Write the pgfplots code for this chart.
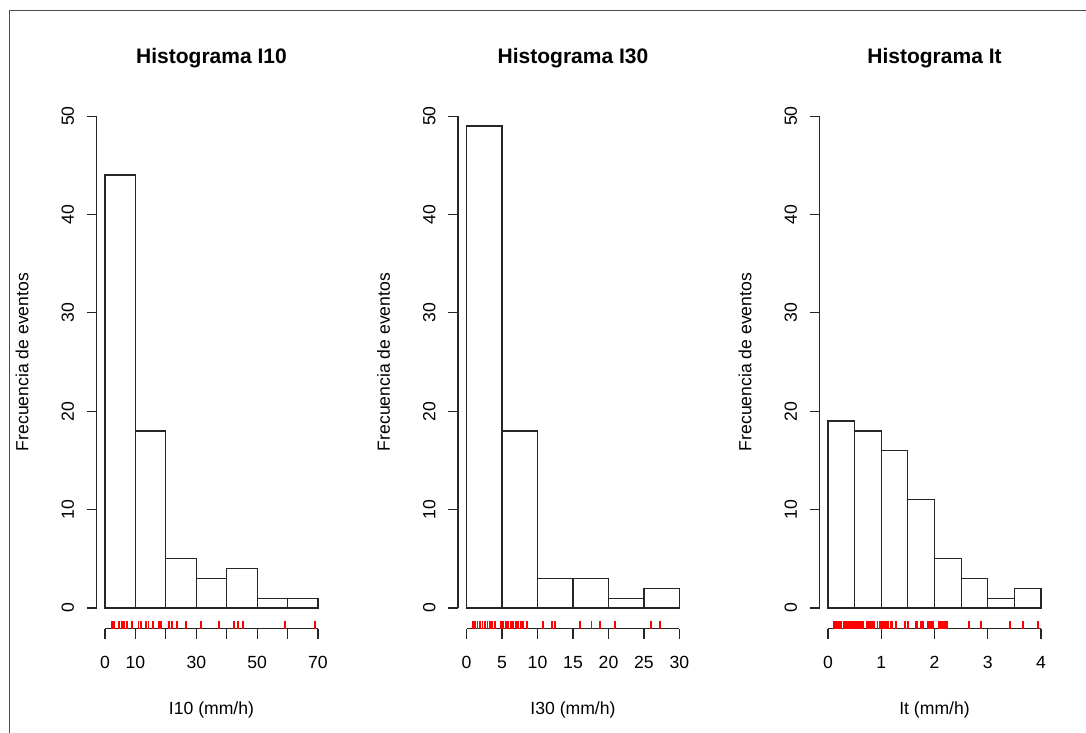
\documentclass[border=0pt]{standalone}
\usepackage{pgfplots}
\pgfplotsset{compat=1.18}
\usepackage{fontspec}
\setmainfont{Liberation Sans}
\pgfplotsset{
  rhist/.style={
    scale only axis, width=230pt, height=533.3pt,
    anchor=south west,
    ymin=-2.1, ymax=52.1,
    axis line style={draw=none},
    tick pos=left, tick align=outside,
    major tick length=10pt,
    tick style={black!85, line width=1.1pt},
    ytick={0,10,20,30,40,50},
    yticklabels={0,10,20,30,40,50},
    yticklabel style={xshift=-9pt, rotate=90, anchor=south, font=\fontsize{17.6pt}{20pt}\selectfont},
    xticklabel style={yshift=-14pt, font=\fontsize{17.6pt}{20pt}\selectfont},
    /pgf/number format/assume math mode=true,
    clip=false,
  },
  hbar/.style={ybar interval, fill=white, draw=black!85, line width=1.2pt},
  rug/.style={only marks, mark=|, mark size=4pt, color=red, mark options={line width=1.9pt, draw=red}},
}
\begin{document}%
\begin{tikzpicture}[x=1pt,y=1pt,font=\fontsize{17.6pt}{20pt}\selectfont]
\draw[line width=1.5pt, black!70] (9.5,-10) -- (9.5,721.3) -- (1100,721.3);
% Panel 1
\begin{axis}[rhist, at={(96.5pt,103.3pt)}, xmin=-2.8, xmax=72.8,
  xtick={0,10,20,30,40,50,60,70}, xticklabels={0,10,,30,,50,,70}]
\addplot[hbar] coordinates {(0,44) (10,18) (20,5) (30,3) (40,4) (50,1) (60,1) (70,1)};
\addplot[rug] coordinates {(2.2,-1.72) (3.0,-1.72) (4.7,-1.72) (5.5,-1.72) (6.3,-1.72) (7.2,-1.72) (8.8,-1.72) (11.0,-1.72) (11.9,-1.72) (13.6,-1.72) (14.3,-1.72) (15.8,-1.72) (17.6,-1.72) (18.5,-1.72) (20.9,-1.72) (22.0,-1.72) (23.7,-1.72) (26.7,-1.72) (31.5,-1.72) (37.6,-1.72) (42.4,-1.72) (43.6,-1.72) (45.3,-1.72) (59.2,-1.72) (69.1,-1.72)};
\draw[line width=1.1pt, black!85] (axis cs:0,-2.1) -- (axis cs:70,-2.1);
\draw[line width=1.1pt, black!85] (axis cs:-2.8,0) -- (axis cs:-2.8,50);
\node[font=\fontsize{21pt}{24pt}\selectfont\bfseries] at (rel axis cs:0.5,1) [yshift=37pt] {Histograma I10};
\node at (rel axis cs:0.5,0) [yshift=-81pt] {I10 (mm/h)};
\node at (rel axis cs:0,0.5) [xshift=-74.5pt, rotate=90] {Frecuencia de eventos};
\end{axis}
% Panel 2
\begin{axis}[rhist, at={(458pt,103.3pt)}, xmin=-1.2, xmax=31.2,
  xtick={0,5,10,15,20,25,30}, xticklabels={0,5,10,15,20,25,30}]
\addplot[hbar] coordinates {(0,49) (5,18) (10,3) (15,3) (20,1) (25,2) (30,2)};
\addplot[rug] coordinates {(0.94,-1.72) (1.17,-1.72) (1.54,-1.72) (1.92,-1.72) (2.25,-1.72) (2.62,-1.72) (2.95,-1.72) (3.32,-1.72) (3.65,-1.72) (4.02,-1.72) (4.91,-1.72) (5.15,-1.72) (5.52,-1.72) (5.9,-1.72) (6.22,-1.72) (6.6,-1.72) (6.93,-1.72) (7.3,-1.72) (7.63,-1.72) (8.0,-1.72) (8.47,-1.72) (10.8,-1.72) (12.0,-1.72) (12.45,-1.72) (15.96,-1.72) (17.6,-1.72) (18.76,-1.72) (20.87,-1.72) (26.0,-1.72) (27.2,-1.72)};
\draw[line width=1.1pt, black!85] (axis cs:0,-2.1) -- (axis cs:30,-2.1);
\draw[line width=1.1pt, black!85] (axis cs:-1.2,0) -- (axis cs:-1.2,50);
\node[font=\fontsize{21pt}{24pt}\selectfont\bfseries] at (rel axis cs:0.5,1) [yshift=37pt] {Histograma I30};
\node at (rel axis cs:0.5,0) [yshift=-81pt] {I30 (mm/h)};
\node at (rel axis cs:0,0.5) [xshift=-74.5pt, rotate=90] {Frecuencia de eventos};
\end{axis}
% Panel 3
\begin{axis}[rhist, at={(819.5pt,103.3pt)}, xmin=-0.16, xmax=4.16,
  xtick={0,1,2,3,4}, xticklabels={0,1,2,3,4}]
\addplot[hbar] coordinates {(0,19) (0.5,18) (1,16) (1.5,11) (2,5) (2.5,3) (3,1) (3.5,2) (4,2)};
\addplot[rug] coordinates {(0.11,-1.72) (0.14,-1.72) (0.17,-1.72) (0.21,-1.72) (0.25,-1.72) (0.3,-1.72) (0.33,-1.72) (0.36,-1.72) (0.39,-1.72) (0.42,-1.72) (0.45,-1.72) (0.49,-1.72) (0.53,-1.72) (0.56,-1.72) (0.59,-1.72) (0.62,-1.72) (0.65,-1.72) (0.74,-1.72) (0.77,-1.72) (0.81,-1.72) (0.84,-1.72) (0.87,-1.72) (0.93,-1.72) (0.97,-1.72) (1.0,-1.72) (1.03,-1.72) (1.06,-1.72) (1.09,-1.72) (1.12,-1.72) (1.18,-1.72) (1.21,-1.72) (1.28,-1.72) (1.45,-1.72) (1.5,-1.72) (1.65,-1.72) (1.68,-1.72) (1.74,-1.72) (1.78,-1.72) (1.87,-1.72) (1.9,-1.72) (1.93,-1.72) (1.98,-1.72) (2.09,-1.72) (2.12,-1.72) (2.15,-1.72) (2.18,-1.72) (2.21,-1.72) (2.24,-1.72) (2.65,-1.72) (2.88,-1.72) (3.41,-1.72) (3.66,-1.72) (3.94,-1.72)};
\draw[line width=1.1pt, black!85] (axis cs:0,-2.1) -- (axis cs:4,-2.1);
\draw[line width=1.1pt, black!85] (axis cs:-0.16,0) -- (axis cs:-0.16,50);
\node[font=\fontsize{21pt}{24pt}\selectfont\bfseries] at (rel axis cs:0.5,1) [yshift=37pt] {Histograma It};
\node at (rel axis cs:0.5,0) [yshift=-81pt] {It (mm/h)};
\node at (rel axis cs:0,0.5) [xshift=-74.5pt, rotate=90] {Frecuencia de eventos};
\end{axis}
\pgfresetboundingbox
\path[use as bounding box] (0,0) rectangle (1086,732);
\end{tikzpicture}%
\end{document}
